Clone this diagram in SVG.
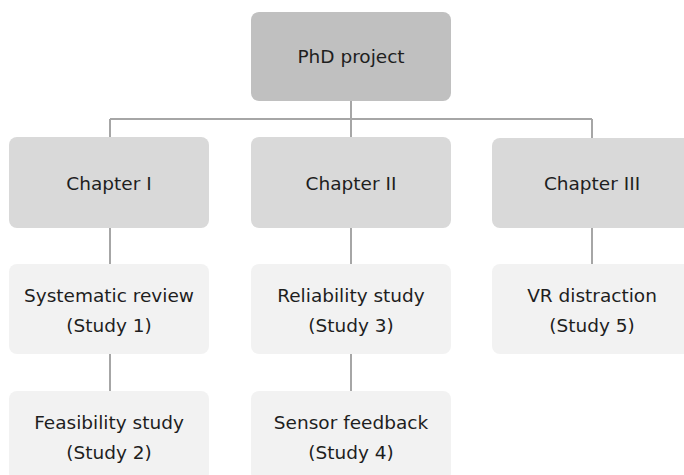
<svg xmlns="http://www.w3.org/2000/svg" width="684" height="475" viewBox="0 0 684 475">
<style>
.top{fill:#c0c0c0}
.ch{fill:#d9d9d9}
.st{fill:#f2f2f2}
text{font-family:"DejaVu Sans","Verdana",sans-serif;font-size:18.5px;fill:#1e1e1e;text-anchor:middle}
.ln{stroke:#a6a6a6;stroke-width:2;fill:none}
</style>
<rect width="684" height="475" fill="#ffffff"/>
<g id="connectors">
<path class="ln" d="M351 101V137M110 119H592M110 119V137M351 119V137M592 119V138"/>
<path class="ln" d="M110 228V264M351 228V264M592 228V264M110 354V391M351 354V391"/>
</g>
<g id="phd"><rect class="top" x="251" y="12" width="200" height="89" rx="8"/><text x="351" y="63">PhD project</text></g>
<g id="ch1"><rect class="ch" x="9" y="137" width="200" height="91" rx="8"/><text x="109" y="190">Chapter I</text></g>
<g id="ch2"><rect class="ch" x="251" y="137" width="200" height="91" rx="8"/><text x="351" y="190">Chapter II</text></g>
<g id="ch3"><rect class="ch" x="492" y="138" width="200" height="90" rx="8"/><text x="592" y="190">Chapter III</text></g>
<g id="s1"><rect class="st" x="9" y="264" width="200" height="90" rx="8"/><text x="109" y="302">Systematic review</text><text x="109" y="332">(Study 1)</text></g>
<g id="s3"><rect class="st" x="251" y="264" width="200" height="90" rx="8"/><text x="351" y="302">Reliability study</text><text x="351" y="332">(Study 3)</text></g>
<g id="s5"><rect class="st" x="492" y="264" width="200" height="90" rx="8"/><text x="592" y="302">VR distraction</text><text x="592" y="332">(Study 5)</text></g>
<g id="s2"><rect class="st" x="9" y="391" width="200" height="90" rx="8"/><text x="109" y="429">Feasibility study</text><text x="109" y="459">(Study 2)</text></g>
<g id="s4"><rect class="st" x="251" y="391" width="200" height="90" rx="8"/><text x="351" y="429">Sensor feedback</text><text x="351" y="459">(Study 4)</text></g>
</svg>
